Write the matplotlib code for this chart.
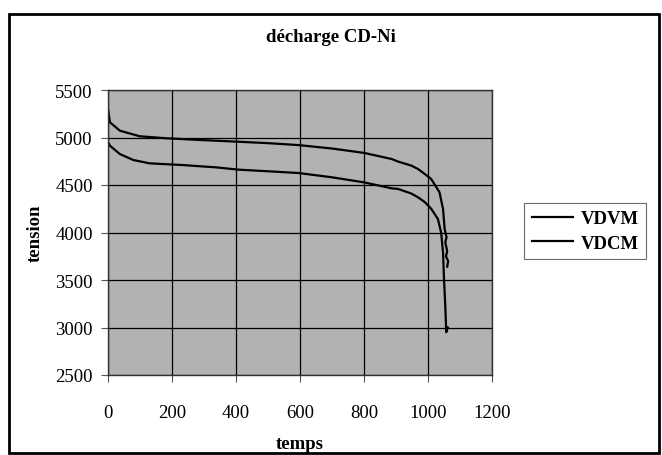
import numpy as np
import matplotlib.pyplot as plt
from matplotlib.patches import Rectangle

# values
t_vdvm = [0, 6, 37, 99, 182, 286, 410, 503, 596, 700, 800, 886, 907, 948, 969,
          990, 1010, 1036, 1047, 1052, 1058, 1054, 1060, 1056, 1063, 1060]
vdvm = [5300, 5160, 5072, 5013, 4992, 4974, 4955, 4940, 4920, 4884, 4838, 4774,
        4746, 4704, 4668, 4616, 4563, 4423, 4247, 4037, 3950, 3900, 3800, 3750,
        3700, 3640]

t_vdcm = [0, 6, 37, 79, 130, 233, 336, 410, 503, 596, 700, 800, 886, 907, 948,
          969, 990, 1010, 1031, 1041, 1047, 1050, 1054, 1057, 1062]
vdcm = [4950, 4914, 4826, 4763, 4728, 4710, 4686, 4661, 4644, 4626, 4581, 4528,
        4465, 4458, 4410, 4370, 4320, 4250, 4142, 4000, 3790, 3510, 3230, 2950,
        3000]

xticks = [0, 200, 400, 600, 800, 1000, 1200]
yticks = [2500, 3000, 3500, 4000, 4500, 5000, 5500]

plt.rcParams['font.family'] = ['Liberation Serif', 'DejaVu Serif']

fig = plt.figure(figsize=(6.62, 4.56), dpi=100)
fig.patches.append(Rectangle((9 / 662, 2 / 456), 650 / 662, 439 / 456,
                             transform=fig.transFigure, fill=False,
                             edgecolor='black', linewidth=2))

ax = fig.add_axes([108 / 662, 1 - 376 / 456, 384 / 662, 285 / 456])
ax.set_facecolor('#b2b2b2')
ax.plot(t_vdvm, vdvm, color='black', lw=1.6, label='VDVM')
ax.plot(t_vdcm, vdcm, color='black', lw=1.6, label='VDCM')

ax.set_xlim(0, 1200)
ax.set_ylim(2500, 5500)
ax.set_xticks(xticks)
ax.set_yticks(yticks)
ax.grid(True, color='black', lw=0.9)
ax.set_axisbelow(True)
for s in ax.spines.values():
    s.set_color('#333333')
    s.set_linewidth(1)
ax.tick_params(direction='out', length=5, labelsize=13.5, color='#555555')
ax.tick_params(axis='x', pad=16)
ax.tick_params(axis='y', pad=6)

ax.set_xlabel('temps', fontsize=13.5, fontweight='bold', labelpad=10)
ax.set_ylabel('tension', fontsize=13.5, fontweight='bold', labelpad=8)
fig.text(331 / 662, 1 - 38 / 456, 'décharge CD-Ni', ha='center', va='center',
         fontsize=13.5, fontweight='bold')

leg = fig.legend(loc='center', bbox_to_anchor=(585 / 662, 1 - 232 / 456),
                 fontsize=13.5, frameon=True, fancybox=False, handlelength=2.2,
                 borderpad=0.4, labelspacing=0.4, handletextpad=0.4)
leg.get_frame().set_edgecolor('#444444')
leg.get_frame().set_linewidth(0.8)
for txt in leg.get_texts():
    txt.set_fontweight('bold')

plt.savefig('out.png', dpi=100)
